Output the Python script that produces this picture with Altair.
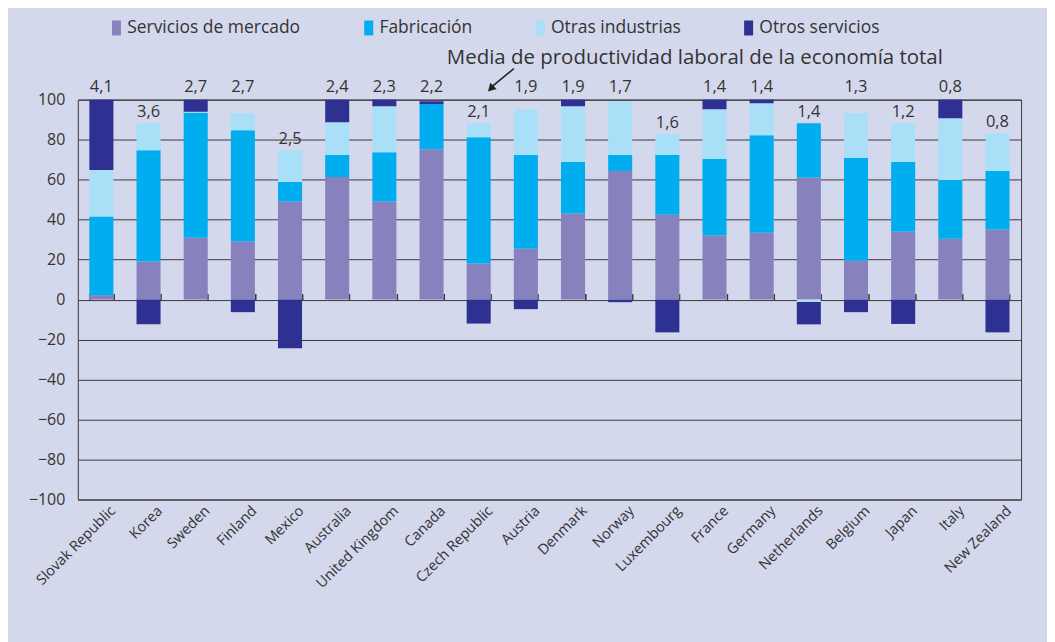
import altair as alt
import pandas as pd

countries = ["Slovak Republic", "Korea", "Sweden", "Finland", "Mexico", "Australia",
             "United Kingdom", "Canada", "Czech Republic", "Austria", "Denmark", "Norway",
             "Luxembourg", "France", "Germany", "Netherlands", "Belgium", "Japan", "Italy",
             "New Zealand"]
servicios = [2.2, 19.1, 30.9, 29.1, 49.0, 61.3, 49.0, 75.2, 18.1, 25.4, 43.0, 64.3,
             42.4, 32.1, 33.4, 61.0, 19.4, 33.9, 30.4, 35.0]
fabricacion = [39.3, 55.6, 62.5, 55.6, 9.8, 11.0, 24.7, 22.6, 63.1, 46.9, 25.8, 8.0,
               29.9, 38.2, 48.8, 27.2, 51.4, 34.9, 29.4, 29.3]
otras = [23.3, 13.5, 0.5, 8.5, 15.9, 16.4, 23.0, 0.0, 7.0, 22.9, 27.9, 26.9,
         10.4, 24.9, 16.0, -1.2, 22.4, 19.4, 30.9, 18.9]
otros = [35.2, -12.4, 6.1, -6.3, -24.4, 11.3, 3.3, 1.4, -12.0, -4.8, 3.3, -1.3,
         -16.4, 4.8, 1.8, -11.2, -6.3, -12.2, 9.3, -16.4]
productividad = ["4,1", "3,6", "2,7", "2,7", "2,5", "2,4", "2,3", "2,2", "2,1", "1,9",
                 "1,9", "1,7", "1,6", "1,4", "1,4", "1,4", "1,3", "1,2", "0,8", "0,8"]
series = ["Servicios de mercado", "Fabricación", "Otras industrias", "Otros servicios"]
colors = ["#8781bd", "#00aeef", "#aadff8", "#2e3192"]
annotation = "Media de productividad laboral de la economía total"

FONT = "Open Sans"
TXT = "#333333"
BG = "#d4d8ec"

rows = []
for i, c in enumerate(countries):
    for k, (s, vals) in enumerate(zip(series, [servicios, fabricacion, otras, otros])):
        rows.append({"country": c, "serie": s, "idx": k, "value": vals[i]})
long_df = pd.DataFrame(rows)

lab_df = pd.DataFrame({
    "country": countries,
    "label": productividad,
    "top": [sum(v for v in (a, b, c, d) if v > 0)
            for a, b, c, d in zip(servicios, fabricacion, otras, otros)],
})
ann_df = pd.DataFrame({"text": [annotation]})

x_scale = alt.Scale(domain=countries, paddingInner=0.49, paddingOuter=0.245)
y_scale = alt.Scale(domain=[-100, 100], nice=False)

bars = alt.Chart(long_df).mark_bar().encode(
    x=alt.X("country:N", sort=countries, scale=x_scale,
            axis=alt.Axis(title=None, labelAngle=-45, labelFontSize=14.5, ticks=False,
                          domain=False, labelPadding=4, labelOffset=7,
                          labelColor=TXT, labelFont=FONT)),
    y=alt.Y("value:Q", stack="zero", scale=y_scale,
            axis=alt.Axis(values=list(range(-100, 101, 20)), title=None, grid=True,
                          gridColor="#3a3a3a", gridWidth=1, gridOpacity=1,
                          ticks=False, domain=False,
                          labelPadding=13, labelFontSize=16, labelColor=TXT,
                          labelFont=FONT)),
    color=alt.Color("serie:N", scale=alt.Scale(domain=series, range=colors),
                    legend=alt.Legend(orient="none", direction="horizontal", title=None,
                                      legendX=30, legendY=-81,
                                      symbolType="M-0.6,-1H0.6V1H-0.6Z",
                                      symbolSize=225, symbolStrokeWidth=0,
                                      labelFontSize=17.5, labelFont=FONT, labelColor=TXT,
                                      labelLimit=400, labelOffset=2, columnPadding=59)),
    order=alt.Order("idx:Q"),
)

labels = alt.Chart(lab_df).transform_calculate(
    ly="datum.top > 90 ? 101 : datum.top"
).mark_text(baseline="alphabetic", dy=-6, fontSize=16.5, color=TXT, font=FONT).encode(
    x=alt.X("country:N", sort=countries, scale=x_scale,
            axis=alt.Axis(title=None, labels=False, domain=False, ticks=True,
                          tickBand="extent", tickSize=6, tickWidth=1.5,
                          tickColor="#333333", offset=-200.5, grid=False)),
    y=alt.Y("ly:Q", scale=y_scale, axis=None),
    text="label:N",
)

ann = alt.Chart(ann_df).mark_text(align="left", baseline="middle", fontSize=20.5,
                                   color=TXT, font=FONT, dx=-32).encode(
    x=alt.datum("Czech Republic", type="nominal", axis=None),
    y=alt.datum(121, axis=None),
    text="text:N",
)

arrow = alt.Chart(ann_df).mark_rule(color="#222222", strokeWidth=1.6).encode(
    x=alt.datum("Austria", type="nominal", bandPosition=0, axis=None),
    x2=alt.datum("Czech Republic", bandPosition=1),
    y=alt.datum(115.5, axis=None),
    y2=alt.datum(106.0),
)

head = alt.Chart(ann_df).mark_point(shape="triangle-down", angle=45, filled=True,
                                    size=80, color="#222222", opacity=1).encode(
    x=alt.datum("Czech Republic", type="nominal", bandPosition=1, axis=None),
    y=alt.datum(105.5, axis=None),
)

chart = alt.layer(bars, labels, ann, arrow, head).resolve_axis(
    x="independent", y="independent"
).properties(
    width=946, height=401,
    autosize=alt.AutoSizeParams(type="none"),
    padding={"left": 70, "top": 91, "right": 26, "bottom": 142},
    background=BG,
).configure(font=FONT).configure_view(stroke="#3a3a3a", strokeWidth=1, fill=BG)

chart.save("out.html", embed_options={"renderer": "svg", "actions": False})
